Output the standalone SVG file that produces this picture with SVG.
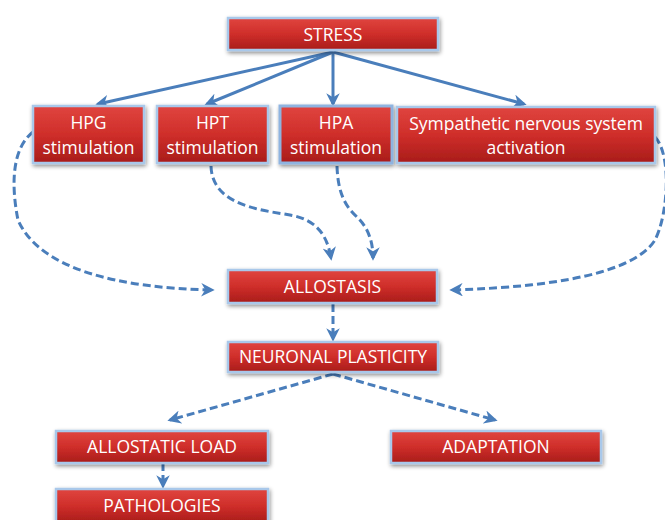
<svg xmlns="http://www.w3.org/2000/svg" width="665" height="520" viewBox="0 0 665 520">
<defs>
<linearGradient id="red" x1="0" y1="0" x2="0" y2="1">
<stop offset="0" stop-color="#e0453f"/>
<stop offset="0.5" stop-color="#cf2e2a"/>
<stop offset="1" stop-color="#a81c1a"/>
</linearGradient>
<filter id="glow" x="-10%" y="-30%" width="120%" height="160%">
<feGaussianBlur in="SourceAlpha" stdDeviation="2"/>
<feOffset dx="1" dy="2"/>
<feComponentTransfer><feFuncA type="linear" slope="0.45"/></feComponentTransfer>
<feMerge><feMergeNode/><feMergeNode in="SourceGraphic"/></feMerge>
</filter>
<marker id="ah" viewBox="0 0 10 10" refX="8" refY="5" markerWidth="4.5" markerHeight="4.5" orient="auto" markerUnits="strokeWidth">
<path d="M0,0 L10,5 L0,10 L3,5 z" fill="#4a7ebb"/>
</marker>
</defs>
<style>
.box{fill:url(#red);stroke:#a9c8ea;stroke-width:2.5;filter:url(#glow)}
.t{fill:#ffffff;font-family:"Open Sans","Liberation Sans",sans-serif;font-size:17.5px;text-anchor:middle}
.s{fill:none;stroke:#4a7ebb;stroke-width:3;marker-end:url(#ah)}
.d{fill:none;stroke:#4a7ebb;stroke-width:3;stroke-dasharray:8,4;marker-end:url(#ah)}
</style>
<rect width="665" height="520" fill="#ffffff"/>
<g id="connectors">
<path class="s" d="M333,52 L98,104"/>
<path class="s" d="M333,52 L207,104"/>
<path class="s" d="M333,52 L333,104"/>
<path class="s" d="M333,52 L524,104"/>
<path class="d" d="M33,132 C10,150 12,190 18,220 C40,270 120,288 212,290"/>
<path class="d" d="M211,166 C212,205 260,210 290,215 C320,220 328,240 331,258"/>
<path class="d" d="M337,166 C338,200 350,210 358,218 C370,230 373,245 373,258"/>
<path class="d" d="M655,137 C672,155 668,215 655,240 C630,280 520,288 452,290"/>
<path class="d" d="M333,304 L333,339"/>
<path class="d" d="M333,374 L170,420"/>
<path class="d" d="M333,374 L495,420"/>
<path class="d" d="M163,463 L163,486"/>
</g>
<g id="stress"><rect class="box" x="228" y="18" width="210" height="32"/><text class="t" x="333" y="41">STRESS</text></g>
<g id="hpg"><rect class="box" x="33" y="106" width="111" height="57"/><text class="t" x="88.5" y="129">HPG</text><text class="t" x="88.5" y="154">stimulation</text></g>
<g id="hpt"><rect class="box" x="157" y="106" width="111" height="57"/><text class="t" x="212.5" y="129">HPT</text><text class="t" x="212.5" y="154">stimulation</text></g>
<g id="hpa"><rect class="box" x="280" y="106" width="112" height="57" style="stroke:#8fb4e0;stroke-width:3"/><text class="t" x="336" y="129">HPA</text><text class="t" x="336" y="154">stimulation</text></g>
<g id="sns"><rect class="box" x="397" y="107" width="258" height="56"/><text class="t" x="526" y="130">Sympathetic nervous system</text><text class="t" x="526" y="154">activation</text></g>
<g id="allostasis"><rect class="box" x="228" y="270" width="209" height="33"/><text class="t" x="332.5" y="293">ALLOSTASIS</text></g>
<g id="plasticity"><rect class="box" x="228" y="342" width="210" height="30"/><text class="t" x="333" y="363">NEURONAL PLASTICITY</text></g>
<g id="load"><rect class="box" x="56" y="431" width="212" height="32"/><text class="t" x="162" y="453">ALLOSTATIC LOAD</text></g>
<g id="adaptation"><rect class="box" x="391" y="431" width="210" height="32"/><text class="t" x="496" y="453">ADAPTATION</text></g>
<g id="pathologies"><rect class="box" x="56" y="489" width="212" height="34"/><text class="t" x="162" y="512">PATHOLOGIES</text></g>
</svg>
